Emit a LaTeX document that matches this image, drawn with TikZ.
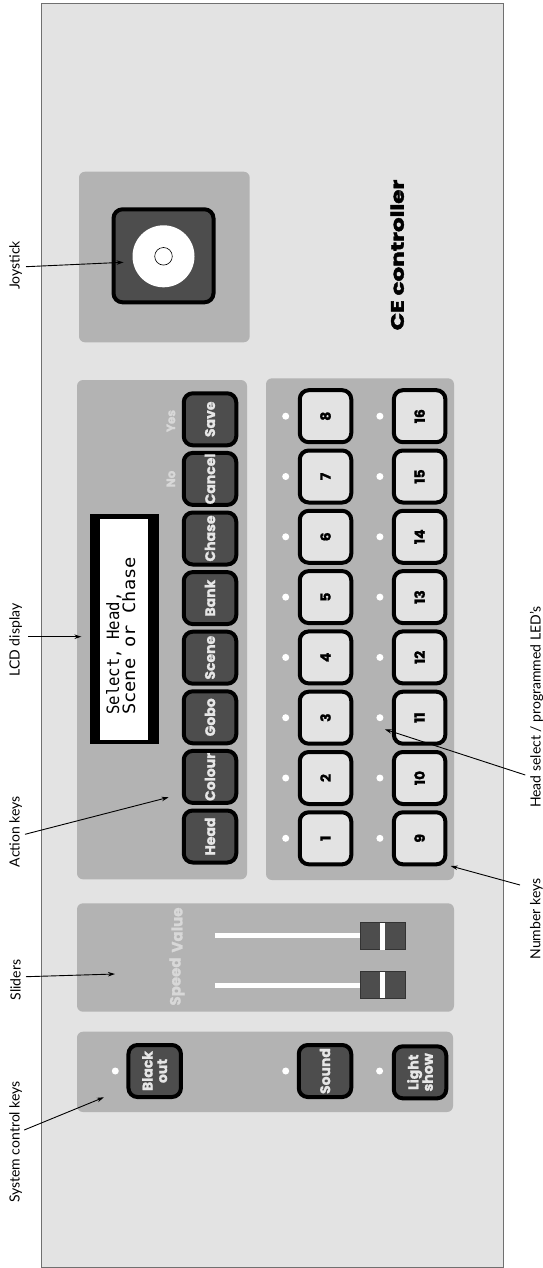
\documentclass[tikz,border=0pt]{standalone}
\usepackage{fontspec}
\setmainfont{Lato}
\newfontfamily\keyfont{Poppins}[BoldFeatures={FakeBold=1.2}]
\newfontfamily\titlefont{Poppins}[BoldFeatures={FakeBold=2}]
\newfontfamily\lcdfont{DejaVu Sans Mono}
\usetikzlibrary{arrows.meta}
\definecolor{panelc}{HTML}{E3E3E3}
\definecolor{bordc}{HTML}{707070}
\definecolor{groupc}{HTML}{B3B3B3}
\definecolor{keyc}{HTML}{4D4D4D}
\definecolor{keytext}{HTML}{E6E6E6}
\definecolor{faint}{HTML}{D8D8D8}
\tikzset{
  grp/.style={fill=groupc, rounded corners=6pt},
  darkkey/.style={draw=black, line width=4pt, fill=keyc, rounded corners=9pt,
    minimum width=52pt, minimum height=52.5pt, inner sep=0pt, rotate=90,
    text=keytext, align=center, font=\keyfont\bfseries\fontsize{14}{14.5}\selectfont},
  numkey/.style={draw=black, line width=4pt, fill=panelc, rounded corners=9pt,
    minimum width=52pt, minimum height=51.5pt, inner sep=0pt, rotate=90,
    text=black, font=\keyfont\bfseries\fontsize{14}{14.5}\selectfont},
  led/.style={circle, fill=white, minimum size=7pt, inner sep=0pt},
  lbl/.style={rotate=90, inner sep=0pt, font=\fontsize{14}{16}\selectfont},
  faintlbl/.style={rotate=90, inner sep=0pt, text=faint, font=\keyfont\bfseries\fontsize{12}{12}\selectfont},
  pointer/.style={-{Stealth[length=7pt,width=4.5pt]}, line width=0.9pt},
  knob/.style={draw=black!80, line width=0.8pt, fill=keyc, minimum width=45pt, minimum height=27pt, inner sep=0pt},
  lcdline/.style={rotate=90, anchor=base west, inner sep=0pt, font=\lcdfont\fontsize{17}{17}\selectfont}
}
\begin{document}
\begin{tikzpicture}[x=1pt,y=-1pt]
\useasboundingbox (0,0) rectangle (543,1268);
% panel
\fill[panelc, draw=bordc, line width=1.2pt] (41.6,3.3) rectangle (503.3,1267.3);
% groups
\fill[grp] (79,171.7) rectangle (249.7,342.3);
\fill[grp] (77,380) rectangle (247,879.3);
\fill[grp] (266,378.3) rectangle (454,880);
\fill[grp] (77,903.3) rectangle (454,1011.7);
\fill[grp] (77,1031.7) rectangle (453,1112);

% joystick
\node[draw=black, line width=4pt, fill=keyc, rounded corners=9pt, minimum width=100pt, minimum height=93pt, inner sep=0pt] (joybox) at (163.5,255.8) {};
\node[circle, fill=white, minimum size=62pt, inner sep=0pt] (joyring) at (163.5,256.3) {};
\node[circle, draw=black, fill=white, line width=0.6pt, minimum size=17.6pt, inner sep=0pt] (joycap) at (163.5,256.3) {};

% title
\node[rotate=90, inner sep=0pt, font=\titlefont\bfseries\fontsize{18}{18}\selectfont] (title) at (397.2,255) {\scalebox{1.28}[1]{CE controller}};

% LCD
\fill[black] (90,514) rectangle (158.6,744);
\fill[white] (99.7,519) rectangle (147.5,740);
\node[lcdline] (lcd1) at (119,715) {\scalebox{0.92}[1]{Select, Head,}};
\node[lcdline] (lcd2) at (135,715) {\scalebox{1.1}[1]{Scene or Chase}};

% action keys
\foreach \t [count=\i from 0] in {Head,Colour,Gobo,Scene,Bank,Chase,Cancel,Save}
  \node[darkkey] (act\i) at (210,{836.5-59.6*\i}) {\t};
\node[faintlbl] (no) at (171,479) {No};
\node[faintlbl] (yes) at (171,421) {Yes};

% number keys and LEDs
\foreach \n in {1,...,8} {
  \node[numkey] (num\n) at (325.5,{838.3-60.3*(\n-1)}) {\n};
  \node[led] (led\n) at (285.7,{838.3-60.3*(\n-1)}) {};
}
\foreach \n in {9,...,16} {
  \node[numkey] (num\n) at (419.6,{838.3-60.3*(\n-9)}) {\n};
  \node[led] (led\n) at (379.9,{838.3-60.3*(\n-9)}) {};
}

% sliders
\draw[white, line width=5pt] (215,935.8) -- (362,935.8);
\draw[white, line width=5pt] (215,985.5) -- (362,985.5);
\node[knob] (valknob) at (383,936.2) {};
\node[knob] (spdknob) at (383,984.9) {};
\fill[white] (380.3,922.8) rectangle (384.8,949.6);
\fill[white] (380.3,971.5) rectangle (384.8,998.3);
\node[faintlbl, font=\keyfont\bfseries\fontsize{15}{15}\selectfont] (value) at (177,930) {Value};
\node[faintlbl, font=\keyfont\bfseries\fontsize{15}{15}\selectfont] (speed) at (177,981.5) {Speed};

% system keys
\node[darkkey] (blackout) at (154.7,1071) {Black\\out};
\node[darkkey] (sound) at (325,1071) {Sound};
\node[darkkey] (lightshow) at (420,1072.3) {Light\\show};
\node[led] (ledbo) at (115.3,1071) {};
\node[led] (ledsd) at (285.7,1071) {};
\node[led] (ledls) at (379.6,1071) {};

% labels
\node[lbl] (ljoy) at (15.6,265.5) {Joystick};
\node[lbl] (llcd) at (15.6,640) {LCD display};
\node[lbl] (lact) at (15.6,831.5) {Action keys};
\node[lbl] (lsld) at (15.6,980) {Sliders};
\node[lbl] (lsys) at (15.6,1142) {System control keys};
\node[lbl] (lhead) at (536.5,707) {Head select / programmed LED's};
\node[lbl] (lnum) at (536.5,919) {Number keys};

% arrow ends
\coordinate (sjoy) at (26,266.7);   \coordinate (tjoy) at (123.6,262.3);
\coordinate (slcd) at (28.4,636.7); \coordinate (tlcd) at (81.4,636.7);
\coordinate (sact) at (25,834.3);   \coordinate (tact) at (168.6,797.3);
\coordinate (ssld) at (26,976.7);   \coordinate (tsld) at (115,974);
\coordinate (ssys) at (24.2,1130);  \coordinate (tsys) at (103.9,1097.3);
\coordinate (shead) at (525.3,775); \coordinate (thead) at (384.8,729.3);
\coordinate (snum) at (520,885);    \coordinate (tnum) at (450.7,866);
\draw[pointer] (sjoy) -- (tjoy);
\draw[pointer] (slcd) -- (tlcd);
\draw[pointer] (sact) -- (tact);
\draw[pointer] (ssld) -- (tsld);
\draw[pointer] (ssys) -- (tsys);
\draw[pointer] (shead) -- (thead);
\draw[pointer] (snum) -- (tnum);
\end{tikzpicture}
\end{document}
